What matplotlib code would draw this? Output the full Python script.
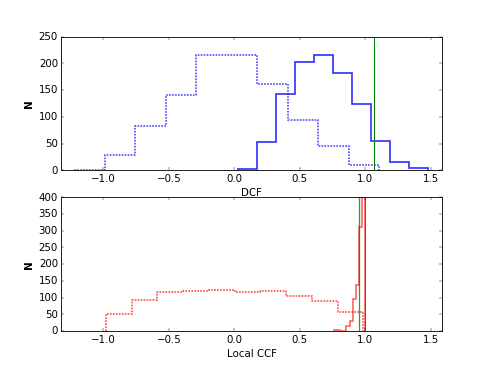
import matplotlib
matplotlib.use('Agg')
import matplotlib.pyplot as plt
import numpy as np

plt.style.use('classic')

# top panel: DCF distributions
dcf_null_edges = np.linspace(-1.223, 1.107, 11)
dcf_null_counts = [1, 28, 83, 141, 216, 216, 162, 95, 45, 10]
dcf_obs_edges = np.linspace(0.028, 1.481, 11)
dcf_obs_counts = [2, 54, 142, 202, 216, 182, 125, 55, 16, 4]
dcf_mark = 1.07

# bottom panel: local CCF distributions
ccf_null_edges = np.linspace(-0.98, 0.985, 11)
ccf_null_counts = [52, 93, 118, 120, 124, 118, 120, 106, 90, 56]
ccf_obs_edges = np.linspace(0.761, 1.0, 11)
ccf_obs_counts = [3, 3, 1, 1, 15, 30, 95, 139, 310, 1500]
ccf_mark_green = 0.951
ccf_mark_red = 1.0

XLIM = (-1.32, 1.585)
DOTS = (0, (2, 1.5))


def step_hist(ax, edges, counts, color, ls, alpha, lw):
    ax.hist(edges[:-1], bins=edges, weights=counts, histtype='step',
            color=color, linestyle=ls, alpha=alpha, linewidth=lw)


fig = plt.figure(figsize=(8, 6), dpi=491 / 8)
fig.patch.set_facecolor('white')

ax1 = fig.add_subplot(2, 1, 1)
step_hist(ax1, dcf_null_edges, dcf_null_counts, 'b', DOTS, 0.75, 1.8)
step_hist(ax1, dcf_obs_edges, dcf_obs_counts, 'b', '-', 0.8, 2)
ax1.axvline(dcf_mark, color='g', linewidth=1.2)
ax1.set_xlim(*XLIM)
ax1.set_ylim(0, 250)
ax1.set_xlabel('DCF')
ax1.set_ylabel('N', fontweight='bold')

ax2 = fig.add_subplot(2, 1, 2)
step_hist(ax2, ccf_null_edges, ccf_null_counts, 'r', DOTS, 0.75, 1.8)
step_hist(ax2, ccf_obs_edges, ccf_obs_counts, 'r', '-', 0.6, 2)
ax2.axvline(ccf_mark_green, color='g', linewidth=1.5, alpha=0.8)
ax2.axvline(ccf_mark_red, color='r', linewidth=1)
ax2.set_xlim(*XLIM)
ax2.set_ylim(0, 400)
ax2.set_yticks(np.arange(0, 401, 50))
ax2.set_xlabel('Local CCF')
ax2.set_ylabel('N', fontweight='bold')

fig.savefig('out.png', dpi=491 / 8)
